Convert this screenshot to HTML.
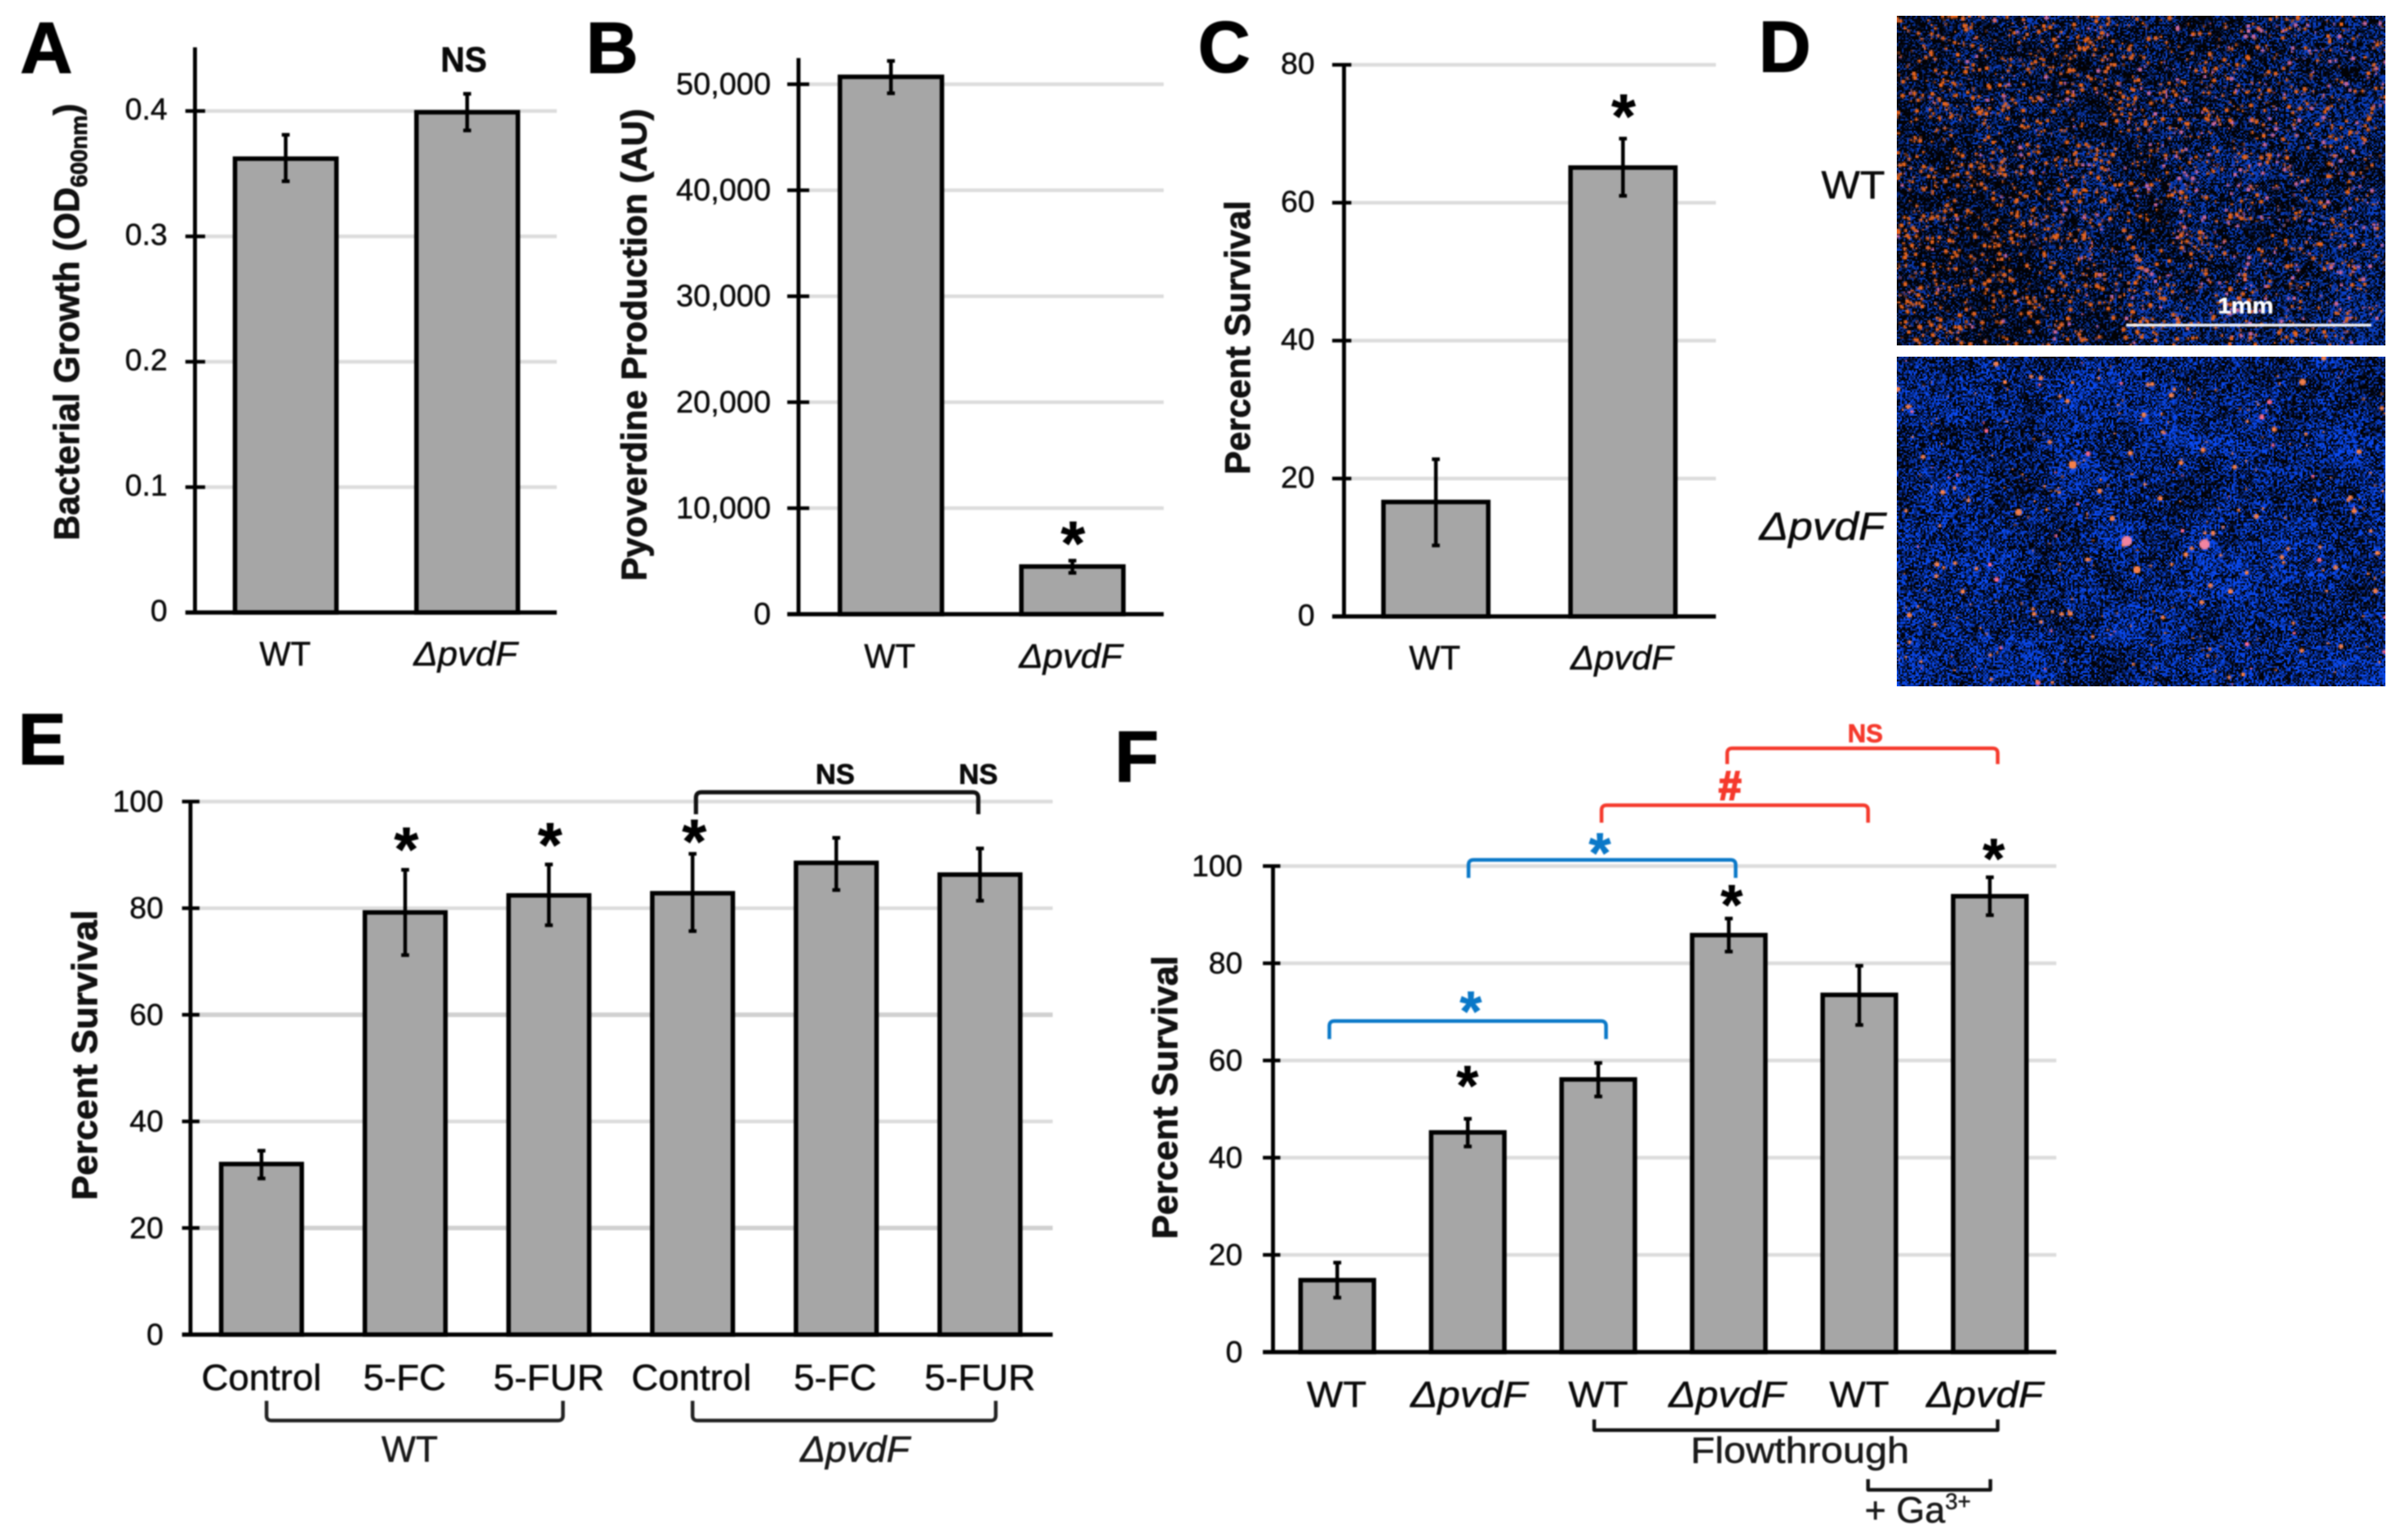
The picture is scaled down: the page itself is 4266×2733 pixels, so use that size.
<!DOCTYPE html>
<html lang="en">
<head>
<meta charset="utf-8">
<title>Bacterial growth and survival figure</title>
<style>
html,body{margin:0;padding:0;background:#fff;width:4266px;height:2733px;overflow:hidden}
#stage{position:relative;width:4266px;height:2733px;background:#fff}
canvas{position:absolute;display:block}
svg{position:absolute;left:0;top:0;filter:blur(1.3px)}
text{font-family:"Liberation Sans",Arial,sans-serif;fill:#0a0a0a;stroke:#0a0a0a;stroke-width:.7px}
.letter{font-weight:700;font-size:128px;fill:#000;stroke:#000;stroke-width:2px}
.title{font-weight:700;font-size:63px;fill:#111;stroke:#111;stroke-width:1.2px}
.star{font-weight:700;text-anchor:middle;font-size:110px;fill:#000;stroke:#000;stroke-width:1px}
.starS{font-size:100px}
.ns{font-weight:700;text-anchor:middle;stroke-width:1px}
.lab{font-size:65px;text-anchor:middle;fill:#1a1a1a}
.br{fill:none;stroke-width:6.5;stroke-linejoin:round;stroke-linecap:butt}
</style>
</head>
<body>
<div id="stage">
<canvas id="micro-wt" width="289" height="195" style="left:3366px;top:28px;width:867px;height:585px"></canvas>
<canvas id="micro-pvdf" width="289" height="195" style="left:3366px;top:633px;width:867px;height:585px"></canvas>
<svg id="fig" xmlns="http://www.w3.org/2000/svg" width="4266" height="2733" viewBox="0 0 4266 2733">
  <g id="charts"></g>

  <text class="letter" x="36" y="129">A</text>
  <text class="letter" x="1040" y="129">B</text>
  <text class="letter" x="2126" y="128">C</text>
  <text class="letter" x="3121" y="127">D</text>
  <text class="letter" x="32" y="1356">E</text>
  <text class="letter" x="1978" y="1387">F</text>

  <text class="title" transform="translate(140,959) rotate(-90)" textLength="775" lengthAdjust="spacingAndGlyphs">Bacterial Growth (OD<tspan font-size="41" dy="14">600nm</tspan><tspan dy="-14">)</tspan></text>
  <text class="title" transform="translate(1147,1031) rotate(-90)" textLength="838" lengthAdjust="spacingAndGlyphs">Pyoverdine Production (AU)</text>
  <text class="title" transform="translate(2218,842) rotate(-90)" textLength="486" lengthAdjust="spacingAndGlyphs">Percent Survival</text>
  <text class="title" transform="translate(172,2130) rotate(-90)" textLength="515" lengthAdjust="spacingAndGlyphs">Percent Survival</text>
  <text class="title" transform="translate(2089,2199) rotate(-90)" textLength="503" lengthAdjust="spacingAndGlyphs">Percent Survival</text>

  <text class="ns" x="823" y="127" font-size="62" textLength="82" lengthAdjust="spacingAndGlyphs">NS</text>
  <text class="star" x="1904" y="1002">*</text>
  <text class="star" x="2881" y="244">*</text>

  <text x="3345" y="352" font-size="70" text-anchor="end" textLength="113" lengthAdjust="spacingAndGlyphs">WT</text>
  <text x="3345" y="958" font-size="70" font-style="italic" text-anchor="end" textLength="223" lengthAdjust="spacingAndGlyphs">ΔpvdF</text>
  <rect x="3773" y="574.5" width="435" height="5" fill="#f4f4f4"></rect>
  <text x="3985" y="556" font-size="40" font-weight="700" text-anchor="middle" style="fill:#fff;stroke:#fff" textLength="99" lengthAdjust="spacingAndGlyphs">1mm</text>

  <text class="star" x="721" y="1545">*</text>
  <text class="star" x="976" y="1537">*</text>
  <text class="star" x="1232" y="1531">*</text>
  <path class="br" style="stroke:#111;stroke-width:7.5" d="M1235 1445 V1416 Q1235 1406 1245 1406 H1726 Q1736 1406 1736 1416 V1445"></path>
  <text class="ns" x="1482" y="1391" font-size="50">NS</text>
  <text class="ns" x="1736" y="1391" font-size="50">NS</text>
  <path class="br" style="stroke:#222" d="M473 2486 V2512 Q473 2521 482 2521 H990 Q999 2521 999 2512 V2486"></path>
  <path class="br" style="stroke:#222" d="M1229 2486 V2512 Q1229 2521 1238 2521 H1758 Q1767 2521 1767 2512 V2486"></path>
  <text class="lab" x="727" y="2594" textLength="100" lengthAdjust="spacingAndGlyphs">WT</text>
  <text class="lab" x="1517" y="2594" font-style="italic" textLength="194" lengthAdjust="spacingAndGlyphs">ΔpvdF</text>

  <text class="star starS" x="2604" y="1961">*</text>
  <text class="star starS" x="3073" y="1640">*</text>
  <text class="star starS" x="3538" y="1558">*</text>
  <path class="br" style="stroke:#0a78c8" d="M2359 1844 V1821 Q2359 1812 2368 1812 H2841 Q2850 1812 2850 1821 V1844"></path>
  <text class="star starS" style="fill:#0a78c8;stroke:#0a78c8" x="2610" y="1829">*</text>
  <path class="br" style="stroke:#0a78c8" d="M2606 1558 V1535 Q2606 1526 2615 1526 H3071 Q3080 1526 3080 1535 V1558"></path>
  <text class="star starS" style="fill:#0a78c8;stroke:#0a78c8" x="2839" y="1548">*</text>
  <path class="br" style="stroke:#f5392c" d="M2842 1460 V1438 Q2842 1429 2851 1429 H3306 Q3315 1429 3315 1438 V1460"></path>
  <text x="3070" y="1419" font-size="72" font-weight="700" text-anchor="middle" style="fill:#f5392c;stroke:#f5392c;stroke-width:3px">#</text>
  <path class="br" style="stroke:#f5392c" d="M3065 1356 V1337 Q3065 1328 3074 1328 H3536 Q3545 1328 3545 1337 V1356"></path>
  <text class="ns" x="3310" y="1317" font-size="45" style="fill:#f5392c;stroke:#f5392c">NS</text>
  <path class="br" style="stroke:#111" d="M2829 2519 V2538 H3545 V2519"></path>
  <text class="lab" x="3194" y="2596" textLength="388" lengthAdjust="spacingAndGlyphs">Flowthrough</text>
  <path class="br" style="stroke:#111" d="M3315 2625 V2644 H3532 V2625"></path>
  <text class="lab" x="3309" y="2702" style="text-anchor:start" font-size="62">+ Ga<tspan font-size="40" dy="-24">3+</tspan></text>
</svg>
</div>

<script>
/* Panel A */
const aCategories = ['WT', 'ΔpvdF'];
const aValues = [0.362, 0.399];
const aErrHigh = [0.381, 0.4137];
const aErrLow = [0.344, 0.3845];
const aTicks = [0, 0.1, 0.2, 0.3, 0.4];
const aTickLabels = ['0', '0.1', '0.2', '0.3', '0.4'];

/* Panel B */
const bCategories = ['WT', 'ΔpvdF'];
const bValues = [50700, 4500];
const bErrHigh = [52200, 5050];
const bErrLow = [49150, 3900];
const bTicks = [0, 10000, 20000, 30000, 40000, 50000];
const bTickLabels = ['0', '10,000', '20,000', '30,000', '40,000', '50,000'];

/* Panel C */
const cCategories = ['WT', 'ΔpvdF'];
const cValues = [16.6, 65.1];
const cErrHigh = [22.8, 69.3];
const cErrLow = [10.3, 61.0];
const cTicks = [0, 20, 40, 60, 80];
const cTickLabels = ['0', '20', '40', '60', '80'];

/* Panel E */
const eCategories = ['Control', '5-FC', '5-FUR', 'Control', '5-FC', '5-FUR'];
const eValues = [32.0, 79.2, 82.4, 82.8, 88.5, 86.3];
const eErrHigh = [34.5, 87.2, 88.2, 90.2, 93.2, 91.2];
const eErrLow = [29.3, 71.2, 76.8, 75.7, 83.4, 81.4];
const eTicks = [0, 20, 40, 60, 80, 100];
const eTickLabels = ['0', '20', '40', '60', '80', '100'];

/* Panel F */
const fCategories = ['WT', 'ΔpvdF', 'WT', 'ΔpvdF', 'WT', 'ΔpvdF'];
const fValues = [14.8, 45.2, 56.1, 85.8, 73.5, 93.8];
const fErrHigh = [18.4, 48.0, 59.5, 89.2, 79.5, 97.7];
const fErrLow = [11.2, 42.3, 52.6, 82.4, 67.3, 89.9];
const fTicks = [0, 20, 40, 60, 80, 100];
const fTickLabels = ['0', '20', '40', '60', '80', '100'];

const SVGNS = 'http://www.w3.org/2000/svg';
const chartsRoot = document.getElementById('charts');

function svgEl(parent, tag, attrs) {
  const node = document.createElementNS(SVGNS, tag);
  for (const k in attrs) node.setAttribute(k, attrs[k]);
  parent.appendChild(node);
  return node;
}

function drawPanel(id, d, L) {
  const yScale = v => L.y0 - (v / L.topVal) * (L.y0 - L.topPx);
  const xScale = i => L.first + i * L.step;
  const group = svgEl(chartsRoot, 'g', {});
  
  

  d.ticks.forEach((t, i) => {
    const y = yScale(t);
    if (t !== 0) {
      const dark = L.darkGrid && L.darkGrid.indexOf(t) >= 0;
      const grid = svgEl(group, 'line', { x1: L.axisX, x2: L.right, y1: y, y2: y, stroke: dark ? '#d0d0d0' : '#dcdcdc', 'stroke-width': dark ? 8 : 6.5 });
      
      
    }
    const label = svgEl(group, 'text', { x: L.labelRight, y: y + L.tickDy, 'text-anchor': 'end', 'font-size': L.tickFont });
    label.textContent = d.tickLabels[i];
    
    
  });

  const yAxis = svgEl(group, 'line', { x1: L.axisX, x2: L.axisX, y1: L.axisTop, y2: L.y0, stroke: '#000', 'stroke-width': 7 });
  
  
  d.ticks.forEach(t => {
    const y = yScale(t);
    const tick = svgEl(group, 'line', { x1: L.tickL, x2: t === 0 ? L.right : L.tickR, y1: y, y2: y, stroke: '#000', 'stroke-width': t === 0 ? 7.5 : 6.5 });
    
    
  });

  d.categories.forEach((c, i) => {
    const cx = xScale(i);
    const top = yScale(d.values[i]);
    const bar = svgEl(group, 'rect', { x: cx - L.barW / 2 + 3.5, y: top, width: L.barW - 7, height: L.y0 - top, fill: '#a6a6a6', stroke: '#000', 'stroke-width': 8 });
    
    

    const hi = yScale(d.errHigh[i]);
    const lo = yScale(d.errLow[i]);
    const whisker = svgEl(group, 'path', { d: 'M' + cx + ' ' + hi + 'V' + lo + 'M' + (cx - 7) + ' ' + hi + 'H' + (cx + 7) + 'M' + (cx - 7) + ' ' + lo + 'H' + (cx + 7), stroke: '#000', 'stroke-width': 6.5, fill: 'none' });
    
    

    const attrs = { x: cx + (L.labelDx ? L.labelDx[i] : 0), y: L.labelBase, 'text-anchor': 'middle', 'font-size': L.catFont, textLength: L.catLen[c], lengthAdjust: 'spacingAndGlyphs' };
    if (c.charAt(0) === 'Δ') attrs['font-style'] = 'italic';
    const cat = svgEl(group, 'text', attrs);
    cat.textContent = c;
    
    
  });
}

drawPanel('a', { categories: aCategories, values: aValues, errHigh: aErrHigh, errLow: aErrLow, ticks: aTicks, tickLabels: aTickLabels },
  { y0: 1087, topPx: 197, topVal: 0.4, axisX: 346, axisTop: 84, right: 988, tickL: 329, tickR: 364, first: 507, step: 322, barW: 187, labelRight: 297, tickDy: 15, tickFont: 54, labelBase: 1181, catFont: 60, catLen: { 'WT': 91, 'ΔpvdF': 184 }, labelDx: [-1, -3] });

drawPanel('b', { categories: bCategories, values: bValues, errHigh: bErrHigh, errLow: bErrLow, ticks: bTicks, tickLabels: bTickLabels },
  { y0: 1090, topPx: 149.5, topVal: 50000, axisX: 1417, axisTop: 103, right: 2065, tickL: 1397, tickR: 1436, first: 1581, step: 322, barW: 188, labelRight: 1368, tickDy: 18, tickFont: 55, labelBase: 1185, catFont: 60, catLen: { 'WT': 91, 'ΔpvdF': 183 }, labelDx: [-2, -3] });

drawPanel('c', { categories: cCategories, values: cValues, errHigh: cErrHigh, errLow: cErrLow, ticks: cTicks, tickLabels: cTickLabels },
  { y0: 1094, topPx: 115, topVal: 80, axisX: 2385, axisTop: 115, right: 3045, tickL: 2364, tickR: 2398, first: 2548, step: 332, barW: 193, labelRight: 2333, tickDy: 16, tickFont: 54, labelBase: 1188, catFont: 60, catLen: { 'WT': 91, 'ΔpvdF': 182 }, labelDx: [-2, -2] });

drawPanel('e', { categories: eCategories, values: eValues, errHigh: eErrHigh, errLow: eErrLow, ticks: eTicks, tickLabels: eTickLabels },
  { y0: 2368.5, topPx: 1422.5, topVal: 100, axisX: 338, axisTop: 1422.5, right: 1868, tickL: 323, tickR: 354, first: 464, step: 255, barW: 150, labelRight: 290, tickDy: 18, tickFont: 54, labelBase: 2467, catFont: 65, catLen: { 'Control': 213, '5-FC': 147, '5-FUR': 197 }, labelDx: [0, -1, 0, -2, -2, 0], darkGrid: [20, 60] });

drawPanel('f', { categories: fCategories, values: fValues, errHigh: fErrHigh, errLow: fErrLow, ticks: fTicks, tickLabels: fTickLabels },
  { y0: 2399.5, topPx: 1537, topVal: 100, axisX: 2259, axisTop: 1537, right: 3649, tickL: 2241, tickR: 2272, first: 2373, step: 231.6, barW: 137, labelRight: 2205, tickDy: 18, tickFont: 54, labelBase: 2497, catFont: 65, catLen: { 'WT': 106, 'ΔpvdF': 207 }, labelDx: [-1, 2, 0, -3, 0, -9] });

/* Procedural fluorescence-micrograph texture (not chart data) */
function makeRng(seed) {
  let s = seed >>> 0;
  return function () {
    s = (s + 0x6D2B79F5) >>> 0;
    let t = s;
    t = Math.imul(t ^ (t >>> 15), t | 1);
    t ^= t + Math.imul(t ^ (t >>> 7), t | 61);
    return ((t ^ (t >>> 14)) >>> 0) / 4294967296;
  };
}
function makeBlotches(rng, w, h, cell) {
  const cols = Math.ceil(w / cell) + 2, rows = Math.ceil(h / cell) + 2, grid = [];
  for (let i = 0; i < cols * rows; i++) grid.push(rng());
  const sm = t => t * t * (3 - 2 * t);
  return function (x, y) {
    const gx = x / cell, gy = y / cell, ix = Math.floor(gx), iy = Math.floor(gy);
    const fx = sm(gx - ix), fy = sm(gy - iy);
    const g = (a, b) => grid[b * cols + a];
    return (g(ix, iy) * (1 - fx) + g(ix + 1, iy) * fx) * (1 - fy) + (g(ix, iy + 1) * (1 - fx) + g(ix + 1, iy + 1) * fx) * fy;
  };
}
function paintMicro(id, seed, opt) {
  const cv = document.getElementById(id), ctx = cv.getContext('2d');
  const W = cv.width, H = cv.height, rng = makeRng(seed);
  const lo1 = makeBlotches(rng, W, H, opt.cell), lo2 = makeBlotches(rng, W, H, opt.cell / 3);
  const img = ctx.createImageData(W, H);
  for (let y = 0; y < H; y++) {
    for (let x = 0; x < W; x++) {
      const lo = 0.6 * lo1(x, y) + 0.4 * lo2(x, y);
      let v = rng() * 0.95 + lo * opt.loAmp + (x / W) * opt.xBias - opt.cut;
      v = Math.max(0, Math.min(1, v * opt.gain));
      const p = (y * W + x) * 4;
      img.data[p] = 2 + v * 8;
      img.data[p + 1] = 2 + v * opt.g;
      img.data[p + 2] = 6 + v * opt.b;
      img.data[p + 3] = 255;
    }
  }
  ctx.putImageData(img, 0, 0);
  for (let i = 0; i < opt.dots; i++) {
    const x = rng() * W, y = rng() * H;
    const keep = (0.15 + 1.1 * lo2(x, y)) * (1 - (x / W) * opt.dotFade);
    if (rng() > keep) continue;
    const r = opt.rMin + Math.pow(rng(), opt.rPow) * (opt.rMax - opt.rMin);
    const pinkChance = opt.pinkBase + (x / W) * opt.pinkX;
    ctx.fillStyle = rng() < pinkChance ? opt.pink : opt.orange;
    ctx.beginPath();
    ctx.arc(x, y, r, 0, 6.2832);
    ctx.fill();
  }
  opt.blobs.forEach(b => {
    ctx.fillStyle = b.c;
    ctx.beginPath();
    ctx.arc(b.x, b.y, b.r, 0, 6.2832);
    ctx.fill();
  });
}
paintMicro('micro-wt', 11, { cell: 30, loAmp: 0.5, xBias: 0.18, cut: 0.72, gain: 2.0, g: 62, b: 190, dots: 4200, dotFade: 0.4, rMin: 0.55, rMax: 1.35, rPow: 1.4, orange: '#e4641e', pink: '#c96aa0', pinkBase: 0.02, pinkX: 0.38, blobs: [] });
paintMicro('micro-pvdf', 29, { cell: 26, loAmp: 0.55, xBias: 0, cut: 0.5, gain: 1.6, g: 72, b: 235, dots: 430, dotFade: 0.05, rMin: 0.55, rMax: 1.6, rPow: 2, orange: '#f5804a', pink: '#f2688c', pinkBase: 0.2, pinkX: 0,
  blobs: [{ x: 136, y: 109, r: 3, c: '#f284a0' }, { x: 182, y: 111, r: 3, c: '#f284a0' }, { x: 104, y: 64, r: 2.4, c: '#f5804a' }, { x: 142, y: 126, r: 2.2, c: '#f5804a' }, { x: 72, y: 92, r: 2, c: '#f5804a' }, { x: 240, y: 15, r: 2, c: '#f5804a' }] });
</script>
</body>
</html>
